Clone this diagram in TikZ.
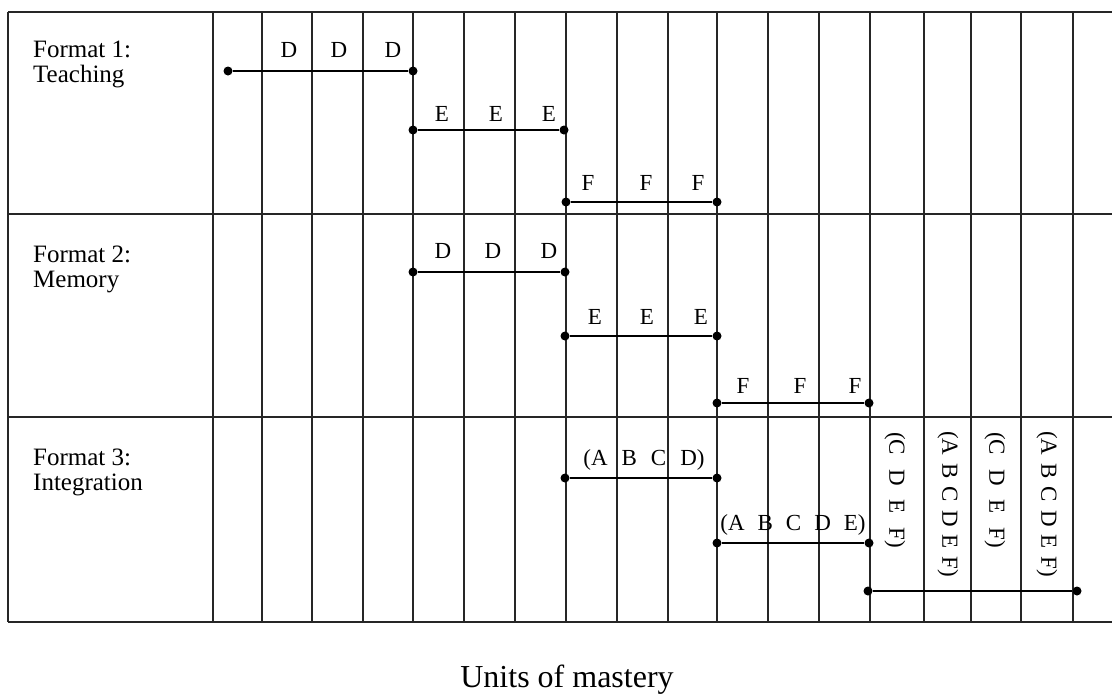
\documentclass[tikz,border=0pt]{standalone}
\usepackage{fontspec}
\setmainfont{Liberation Serif}
\begin{document}
\begin{tikzpicture}[x=1pt,y=-1pt,
  gridline/.style={line width=1.3pt, black!85},
  seg/.style={line width=2pt},
  dot/.style={circle, fill, inner sep=0pt, minimum size=9pt},
  lbl/.style={anchor=base, font=\fontsize{23}{23}\selectfont, inner sep=0pt},
  fmt/.style={anchor=base west, font=\fontsize{25}{25}\selectfont, inner sep=0pt},
  vlbl/.style={rotate=-90, anchor=west, font=\fontsize{23}{23}\selectfont, inner sep=0pt},
  title/.style={anchor=base, font=\fontsize{32}{32}\selectfont, inner sep=0pt}]
\useasboundingbox (0,0) rectangle (1112,694);
% grid
\foreach \yy in {12,214,417,622} \draw[gridline] (8,\yy) -- (1112,\yy);
\draw[gridline] (8,12) -- (8,622);
\foreach \xx in {213,262,312,363,413,464,515,566,617,668,717,768,819,870,924,971,1021,1073}
  \draw[gridline] (\xx,12) -- (\xx,622);
% row labels
\node[fmt] (f1a) at (33,57) {Format 1:};
\node[fmt] (f1b) at (33,82) {Teaching};
\node[fmt] (f2a) at (33,262) {Format 2:};
\node[fmt] (f2b) at (33,287) {Memory};
\node[fmt] (f3a) at (33,465) {Format 3:};
\node[fmt] (f3b) at (33,490) {Integration};
% row 1
\node[dot] (a1) at (228,71) {}; \node[dot] (a2) at (413,71) {};
\draw[seg] (a1) -- (a2);
\node[lbl] (d11) at (289,57) {D}; \node[lbl] (d12) at (339,57) {D}; \node[lbl] (d13) at (393,57) {D};
\node[dot] (b1) at (413,130) {}; \node[dot] (b2) at (564,130) {};
\draw[seg] (b1) -- (b2);
\node[lbl] (e11) at (442,121) {E}; \node[lbl] (e12) at (496,121) {E}; \node[lbl] (e13) at (549,121) {E};
\node[dot] (c1) at (566,202) {}; \node[dot] (c2) at (717,202) {};
\draw[seg] (c1) -- (c2);
\node[lbl] (f11) at (588,190) {F}; \node[lbl] (f12) at (646,190) {F}; \node[lbl] (f13) at (698,190) {F};
% row 2
\node[dot] (g1) at (413,272) {}; \node[dot] (g2) at (565,272) {};
\draw[seg] (g1) -- (g2);
\node[lbl] (d21) at (443,258) {D}; \node[lbl] (d22) at (493,258) {D}; \node[lbl] (d23) at (549,258) {D};
\node[dot] (h1) at (565,336) {}; \node[dot] (h2) at (717,336) {};
\draw[seg] (h1) -- (h2);
\node[lbl] (e21) at (595,324) {E}; \node[lbl] (e22) at (647,324) {E}; \node[lbl] (e23) at (701,324) {E};
\node[dot] (k1) at (717,403) {}; \node[dot] (k2) at (869,403) {};
\draw[seg] (k1) -- (k2);
\node[lbl] (f21) at (743,393) {F}; \node[lbl] (f22) at (800,393) {F}; \node[lbl] (f23) at (855,393) {F};
% row 3
\node[dot] (m1) at (565,478) {}; \node[dot] (m2) at (717,478) {};
\draw[seg] (m1) -- (m2);
\node[lbl] (abcd) at (644,465) {(A\hspace{14pt}B\hspace{14pt}C\hspace{14pt}D)};
\node[dot] (n1) at (717,543) {}; \node[dot] (n2) at (869,543) {};
\draw[seg] (n1) -- (n2);
\node[lbl] (abcde) at (793,530) {(A\hspace{13pt}B\hspace{13pt}C\hspace{13pt}D\hspace{13pt}E)};
\node[dot] (p1) at (868,591) {}; \node[dot] (p2) at (1077,591) {};
\draw[seg] (p1) -- (p2);
\node[vlbl] (v1) at (895,432) {(C\hspace{14pt}D\hspace{14pt}E\hspace{14pt}F)};
\node[vlbl] (v2) at (948,431) {(A\hspace{8pt}B\hspace{8pt}C\hspace{8pt}D\hspace{8pt}E\hspace{8pt}F)};
\node[vlbl] (v3) at (995,432) {(C\hspace{14pt}D\hspace{14pt}E\hspace{14pt}F)};
\node[vlbl] (v4) at (1047,431) {(A\hspace{8pt}B\hspace{8pt}C\hspace{8pt}D\hspace{8pt}E\hspace{8pt}F)};
% axis title
\node[title] (units) at (567,687) {Units of mastery};
\end{tikzpicture}
\end{document}
